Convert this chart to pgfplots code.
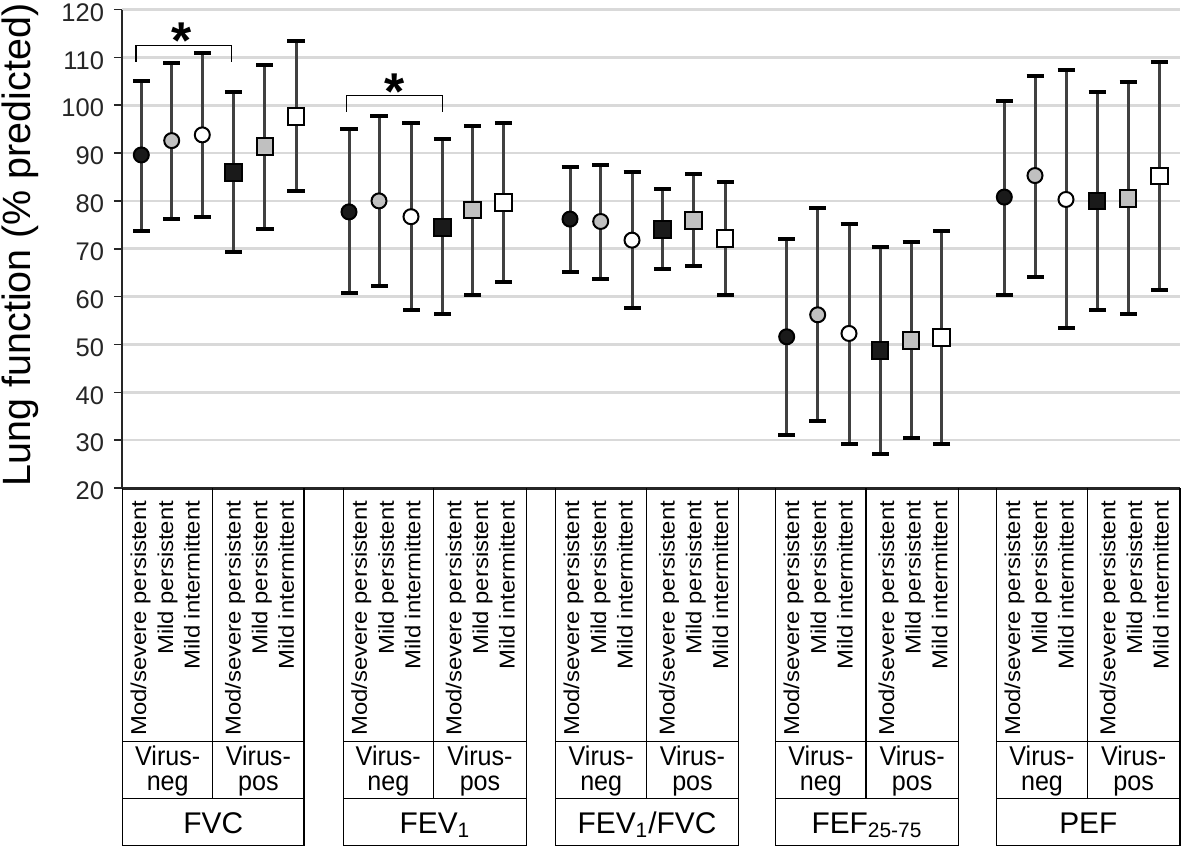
\documentclass[border=0pt]{standalone}
\usepackage{pgfplots}
\pgfplotsset{compat=1.18}
\usepackage{pgfplotstable}
\usepackage{graphicx}
\usepackage{fontspec}
\setmainfont{Liberation Sans}

\definecolor{errc}{HTML}{404040}
\definecolor{graymk}{HTML}{C0C0C0}
\definecolor{blkmk}{HTML}{1A1A1A}
\definecolor{gridc}{HTML}{D9D9D9}
\definecolor{axc}{HTML}{262626}
\definecolor{tickc}{HTML}{262626}

% x = horizontal position, y = mean, lo/hi = ends of the whiskers
% rows: FVC, FEV1, FEV1/FVC, FEF25-75, PEF
\pgfplotstableread{
x y lo hi
141.3 89.6 73.8 105.1
349 77.7 60.7 95.1
570 76.2 65.1 87.1
786.7 51.6 31.1 72.0
1004.3 80.8 60.4 100.9
}\tabA
\pgfplotstableread{
x y lo hi
171.7 92.6 76.3 108.9
379 80.0 62.3 97.8
600.7 75.7 63.6 87.6
817.7 56.2 33.9 78.5
1035 85.3 64.2 106.2
}\tabB
\pgfplotstableread{
x y lo hi
202.3 93.8 76.7 111.0
411 76.7 57.1 96.2
632 71.8 57.6 86.1
849 52.3 29.3 75.1
1066 80.3 53.4 107.4
}\tabC
\pgfplotstableread{
x y lo hi
233.3 85.9 69.3 102.8
442.3 74.5 56.4 92.9
662.7 74.0 65.7 82.4
880 48.7 27.1 70.3
1097 80.0 57.1 102.8
}\tabD
\pgfplotstableread{
x y lo hi
265 91.3 74.2 108.5
472.3 78.1 60.3 95.7
693.7 75.9 66.3 85.7
911 50.9 30.4 71.5
1128 80.5 56.4 104.8
}\tabE
\pgfplotstableread{
x y lo hi
296 97.7 82.1 113.5
503.3 79.7 63.1 96.2
725 72.2 60.3 84.0
941.7 51.5 29.3 73.7
1159.3 85.2 61.4 109.0
}\tabF

\tikzset{
  tbl/.style={draw=black, line width=0.7bp},
  rl/.style={rotate=90, anchor=base east, inner sep=0pt, font=\fontsize{10.8}{12}\selectfont},
  tx/.style={inner sep=0pt, font=\fontsize{12.6}{13}\selectfont},
  mx/.style={inner sep=0pt, font=\fontsize{15}{16}\selectfont},
}
\newcommand{\rt}[1]{\scalebox{1.11}[1]{#1}}
\newcommand{\vt}[1]{\scalebox{1}[1.08]{#1}}

\newcommand{\grp}[4]{%
  \draw[tbl] (axis cs:#1,20) -- (axis cs:#1,-54.75) -- (axis cs:#3,-54.75) -- (axis cs:#3,20);
  \draw[tbl] (axis cs:#2,20) -- (axis cs:#2,-44.85);
  \draw[tbl] (axis cs:#1,-33.02) -- (axis cs:#3,-33.02);
  \draw[tbl] (axis cs:#1,-44.85) -- (axis cs:#3,-44.85);
  \node[rl] at ([xshift=11.75bp]axis cs:#1,17.4) {\rt{Mod/severe persistent}};
  \node[rl] at ([xshift=25.25bp]axis cs:#1,17.4) {\rt{Mild persistent}};
  \node[rl] at ([xshift=38.5bp]axis cs:#1,17.4) {\rt{Mild intermittent}};
  \node[rl] at ([xshift=14bp]axis cs:#2,17.4) {\rt{Mod/severe persistent}};
  \node[rl] at ([xshift=27.35bp]axis cs:#2,17.4) {\rt{Mild persistent}};
  \node[rl] at ([xshift=40.65bp]axis cs:#2,17.4) {\rt{Mild intermittent}};
  \path (axis cs:#1,-37.9) -- (axis cs:#2,-37.9) node[midway, anchor=base, tx] {\vt{Virus-}};
  \path (axis cs:#1,-43.3) -- (axis cs:#2,-43.3) node[midway, anchor=base, tx] {\vt{neg}};
  \path (axis cs:#2,-37.9) -- (axis cs:#3,-37.9) node[midway, anchor=base, tx] {\vt{Virus-}};
  \path (axis cs:#2,-43.3) -- (axis cs:#3,-43.3) node[midway, anchor=base, tx] {\vt{pos}};
  \path (axis cs:#1,-52.1) -- (axis cs:#3,-52.1) node[midway, anchor=base, mx] {#4};
}

\pgfplotsset{
  ebar/.style={only marks, mark=none, forget plot,
    error bars/.cd, y dir=both, y explicit, error mark=|,
    error bar style={draw=errc, line width=1.5bp, solid},
    error mark options={draw=black, line width=2bp, mark size=4.25bp, solid}},
}

\begin{document}
\begin{tikzpicture}
\begin{axis}[
  name=ax, scale only axis, width=529bp, height=239.25bp,
  xmin=122, xmax=1180, ymin=20, ymax=120,
  axis x line=bottom, axis y line=left, axis line style={-},
  x axis line style={line width=1.5bp, draw=axc},
  y axis line style={line width=1bp, draw=axc},
  xtick=\empty, ytick={20,30,...,120},
  tick align=outside, major tick length=4bp,
  tick style={line width=0.8bp, draw=axc},
  ymajorgrids, grid style={draw=gridc, line width=1.3bp},
  yticklabel style={font=\fontsize{12.8}{13}\selectfont, text=tickc, yshift=-1.5bp, xshift=-1.5bp},
  /pgf/number format/assume math mode=true,
  clip=false,
]
% whiskers first
\addplot[ebar] table[x=x, y=y, y error plus expr=\thisrow{hi}-\thisrow{y}, y error minus expr=\thisrow{y}-\thisrow{lo}] {\tabA};
\addplot[ebar] table[x=x, y=y, y error plus expr=\thisrow{hi}-\thisrow{y}, y error minus expr=\thisrow{y}-\thisrow{lo}] {\tabB};
\addplot[ebar] table[x=x, y=y, y error plus expr=\thisrow{hi}-\thisrow{y}, y error minus expr=\thisrow{y}-\thisrow{lo}] {\tabC};
\addplot[ebar] table[x=x, y=y, y error plus expr=\thisrow{hi}-\thisrow{y}, y error minus expr=\thisrow{y}-\thisrow{lo}] {\tabD};
\addplot[ebar] table[x=x, y=y, y error plus expr=\thisrow{hi}-\thisrow{y}, y error minus expr=\thisrow{y}-\thisrow{lo}] {\tabE};
\addplot[ebar] table[x=x, y=y, y error plus expr=\thisrow{hi}-\thisrow{y}, y error minus expr=\thisrow{y}-\thisrow{lo}] {\tabF};
% markers
\addplot[only marks, mark=*, mark size=3.75bp, mark options={draw=black, fill=blkmk, line width=1bp, solid}] table[x=x,y=y] {\tabA};
\addplot[only marks, mark=*, mark size=3.75bp, mark options={draw=black, fill=graymk, line width=1bp, solid}] table[x=x,y=y] {\tabB};
\addplot[only marks, mark=*, mark size=3.75bp, mark options={draw=black, fill=white, line width=1bp, solid}] table[x=x,y=y] {\tabC};
\addplot[only marks, mark=square*, mark size=4.2bp, mark options={draw=black, fill=blkmk, line width=1bp, solid}] table[x=x,y=y] {\tabD};
\addplot[only marks, mark=square*, mark size=4.2bp, mark options={draw=black, fill=graymk, line width=1bp, solid}] table[x=x,y=y] {\tabE};
\addplot[only marks, mark=square*, mark size=4.2bp, mark options={draw=black, fill=white, line width=1bp, solid}] table[x=x,y=y] {\tabF};

% significance brackets
\draw[black, line width=0.6bp] (axis cs:136,109.1) -- (axis cs:136,112.4) -- (axis cs:231.7,112.4) -- (axis cs:231.7,109.1);
\node[anchor=base, inner sep=0pt, font=\bfseries\fontsize{26}{26}\selectfont] at (axis cs:181.7,109.85) {*};
\draw[black, line width=0.6bp] (axis cs:346.7,98.6) -- (axis cs:346.7,102.1) -- (axis cs:442.3,102.1) -- (axis cs:442.3,98.6);
\node[anchor=base, inner sep=0pt, font=\bfseries\fontsize{26}{26}\selectfont] at (axis cs:395,99.2) {*};

% y label
\node[rotate=90, anchor=north, inner sep=0pt, font=\fontsize{19.8}{20}\selectfont] at (axis cs:1.5,70.8) {Lung function (\% predicted)};

% category table
\grp{122.7}{212.7}{304}{FVC}
\grp{343.3}{433.3}{526.7}{FEV\textsubscript{1}}
\grp{555.7}{646.7}{738.3}{FEV\textsubscript{1}/FVC}
\grp{775.7}{866}{958.3}{FEF\textsubscript{25-75}}
\grp{996.7}{1087.3}{1180}{PEF}

\coordinate (BL) at (axis cs:0,-55.03);
\coordinate (TR) at (axis cs:1182,121.985);
\end{axis}
\pgfresetboundingbox
\path[use as bounding box] (BL) rectangle (TR);
\end{tikzpicture}
\end{document}
